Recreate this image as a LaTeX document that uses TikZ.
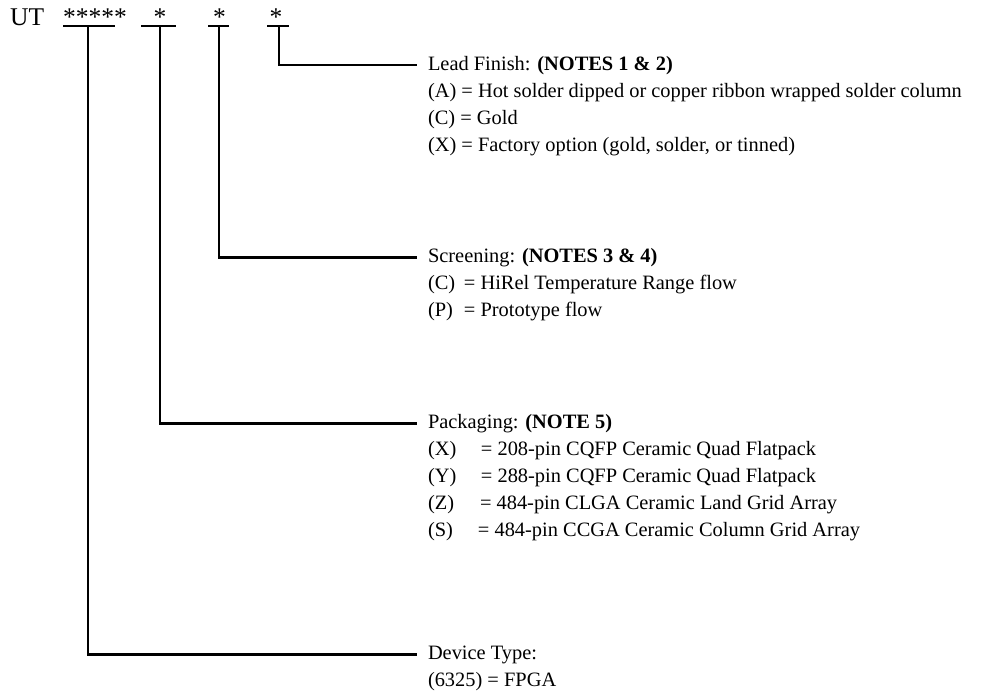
\documentclass[tikz,border=0pt]{standalone}
\usepackage{fontspec}
\setmainfont{Liberation Serif}
\usetikzlibrary{
  calc,
  positioning
}

\tikzset{
  partno/.style={anchor=base west, inner sep=0pt, font=\fontsize{25.5}{30}\selectfont},
  lbl/.style={anchor=base west, inner sep=0pt, outer xsep=11pt, font=\fontsize{20.4}{25}\selectfont},
  bar/.style={line width=2.8pt}
}

\begin{document}
\begin{tikzpicture}[x=1pt,y=-1pt]
  \useasboundingbox (0,0) rectangle (989,694);
  \node[partno] (ut) at (10,25) {UT};
  \node[partno] (dev) at (63,25) {*****};
  \node[partno,anchor=base] (pkg) at (160,25) {*};
  \node[partno,anchor=base] (scr) at (219.5,25) {*};
  \node[partno,anchor=base] (fin) at (276,25) {*};
  \coordinate (devB) at (88,26);
  \coordinate (pkgB) at (160,26);
  \coordinate (scrB) at (219,26);
  \coordinate (finB) at (279,26);
  \draw[bar] (63,26) -- (115,26);
  \draw[bar] (141,26) -- (176,26);
  \draw[bar] (208,26) -- (229,26);
  \draw[bar] (267,26) -- (289,26);

  \node[lbl] (finT) at (417,70) {Lead Finish: \textbf{(NOTES 1 \& 2)}};
  \node[lbl] (finA) at (417,97) {(A) = Hot solder dipped or copper ribbon wrapped solder column};
  \node[lbl] (finC) at (417,124) {(C) = Gold};
  \node[lbl] (finX) at (417,151) {(X) = Factory option (gold, solder, or tinned)};

  \node[lbl] (scrT) at (417,262) {Screening: \textbf{(NOTES 3 \& 4)}};
  \node[lbl] (scrC) at (417,289) {\makebox[36pt][l]{(C)}= HiRel Temperature Range flow};
  \node[lbl] (scrP) at (417,316) {\makebox[36pt][l]{(P)}= Prototype flow};

  \node[lbl] (pkgT) at (417,428) {Packaging: \textbf{(NOTE 5)}};
  \node[lbl] (pkgX) at (417,455) {\makebox[53pt][l]{(X)}= 208-pin CQFP Ceramic Quad Flatpack};
  \node[lbl] (pkgY) at (417,482) {\makebox[53pt][l]{(Y)}= 288-pin CQFP Ceramic Quad Flatpack};
  \node[lbl] (pkgZ) at (417,509) {\makebox[52pt][l]{(Z)}= 484-pin CLGA Ceramic Land Grid Array};
  \node[lbl] (pkgS) at (417,536) {\makebox[50pt][l]{(S)}= 484-pin CCGA Ceramic Column Grid Array};

  \node[lbl] (devT) at (417,659) {Device Type:};
  \node[lbl] (dev1) at (417,686) {(6325) = FPGA};

  \draw[bar] (finB) |- (finT.west);
  \draw[bar] (scrB) |- (scrT.west);
  \draw[bar] (pkgB) |- (pkgT.west);
  \draw[bar] (devB) |- (devT.west);
\end{tikzpicture}
\end{document}
